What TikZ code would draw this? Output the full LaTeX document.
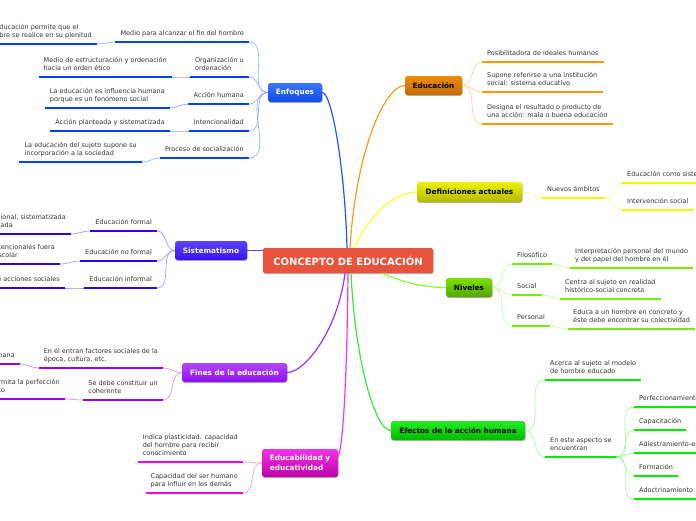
\documentclass[tikz,border=0pt]{standalone}
\usepackage{fontspec}
\setmainfont{DejaVu Sans}
\usetikzlibrary{shadows}
\definecolor{txtc}{HTML}{333333}
\definecolor{cred}{HTML}{E8533D}
% node gradients
\definecolor{gEt}{HTML}{3A78FF}\definecolor{gEb}{HTML}{1048E8}
\definecolor{gDt}{HTML}{F08C00}\definecolor{gDb}{HTML}{C06A00}
\definecolor{gAt}{HTML}{EEF200}\definecolor{gAb}{HTML}{B4B800}
\definecolor{gSt}{HTML}{5A44FF}\definecolor{gSb}{HTML}{3A10F0}
\definecolor{gNt}{HTML}{80E000}\definecolor{gNb}{HTML}{50A800}
\definecolor{gFt}{HTML}{B448FF}\definecolor{gFb}{HTML}{8E10EE}
\definecolor{gXt}{HTML}{22F022}\definecolor{gXb}{HTML}{00B800}
\definecolor{gBt}{HTML}{F034E4}\definecolor{gBb}{HTML}{C000A8}
% branch colours: line, underline, thin
\definecolor{cE}{HTML}{2255EE}\definecolor{uE}{HTML}{0044EE}\definecolor{tE}{HTML}{88A8FF}
\definecolor{cS}{HTML}{6644FF}\definecolor{uS}{HTML}{3300EE}\definecolor{tS}{HTML}{9F88FF}
\definecolor{cF}{HTML}{9933FF}\definecolor{uF}{HTML}{9900EE}\definecolor{tF}{HTML}{CC88FF}
\definecolor{cB}{HTML}{FF33EE}\definecolor{uB}{HTML}{FF00DD}\definecolor{tB}{HTML}{FF88EE}
\definecolor{cD}{HTML}{FF9911}\definecolor{uD}{HTML}{FF9900}\definecolor{tD}{HTML}{FFCC88}
\definecolor{cA}{HTML}{FFFF33}\definecolor{uA}{HTML}{EEFF00}\definecolor{tA}{HTML}{FFFF88}
\definecolor{cN}{HTML}{88FF33}\definecolor{uN}{HTML}{77EE00}\definecolor{tN}{HTML}{BBFF88}
\definecolor{cX}{HTML}{33EE33}\definecolor{uX}{HTML}{00EE00}\definecolor{tX}{HTML}{99FF99}
\newcommand\ULine[2]{%
  \coordinate (#1L) at ([xshift=-5pt,yshift=-4.5pt]#1.south west);
  \coordinate (#1R) at ([xshift=5pt,yshift=-4.5pt]#1.south east);
  \draw[line width=2.4pt,#2] (#1L) -- (#1R);}
\tikzset{
  txt/.style={inner sep=0pt, font=\fontsize{6.5}{8}\selectfont, text=txtc, align=left, text depth=1.5pt, yshift=4.5pt},
  mainnode/.style={rounded corners=2.5pt, inner sep=1pt, align=center,
    font=\fontsize{7.3}{9}\selectfont\bfseries,
    drop shadow={shadow xshift=0.6pt,shadow yshift=-0.9pt,opacity=0.3,fill=black}},
  mainline/.style={line width=1.2pt},
  thinline/.style={line width=0.6pt},
}
\begin{document}
\begin{tikzpicture}[x=1pt,y=-1pt]
\useasboundingbox (0,0) rectangle (696,520);

% ---------- main nodes ----------
\node[rounded corners=1.5pt, fill=cred, minimum width=170pt, minimum height=25pt, inner sep=0pt,
  text=white, font=\fontsize{10}{12}\selectfont\bfseries,
  drop shadow={shadow xshift=0.6pt,shadow yshift=-0.9pt,opacity=0.3,fill=black}] (C) at (348,260.5) {CONCEPTO DE EDUCACIÓN};
\node[mainnode, minimum width=54pt, minimum height=19pt, top color=gEt, bottom color=gEb, text=white] (E) at (295,92.5) {Enfoques};
\node[mainnode, minimum width=57pt, minimum height=19pt, top color=gDt, bottom color=gDb, text=black] (D) at (433.5,85.5) {Educación};
\node[mainnode, minimum width=105pt, minimum height=20pt, top color=gAt, bottom color=gAb, text=black] (A) at (469.5,192) {Definiciones actuales};
\node[mainnode, minimum width=72pt, minimum height=19pt, top color=gSt, bottom color=gSb, text=white] (S) at (211,250.5) {Sistematismo};
\node[mainnode, minimum width=46pt, minimum height=19pt, top color=gNt, bottom color=gNb, text=black] (N) at (469,287.5) {Niveles};
\node[mainnode, minimum width=105pt, minimum height=19pt, top color=gFt, bottom color=gFb, text=white] (F) at (234.5,372.5) {Fines de la educación};
\node[mainnode, minimum width=134pt, minimum height=19pt, top color=gXt, bottom color=gXb, text=black] (X) at (458,430.5) {Efectos de la acción humana};
\node[mainnode, minimum width=76pt, minimum height=28pt, top color=gBt, bottom color=gBb, text=white, align=left, font=\fontsize{7.3}{10.5}\selectfont\bfseries] (B) at (300,463) {Educabilidad y\\educatividad};

% ---------- central connectors ----------
\draw[mainline, cE] ([xshift=-1pt]C.north) .. controls (345,170) and (332,92.5) .. (E.east);
\draw[mainline, cD] ([xshift=2pt]C.north) .. controls (356,150) and (385,85.5) .. (D.west);
\draw[mainline, cA] ([xshift=6pt]C.north) .. controls (375,205) and (400,192) .. (A.west);
\draw[mainline, cS] (S.east) -- (S.east -| C.west);
\draw[mainline, cN] ([xshift=34pt]C.south) .. controls (405,283) and (425,287.5) .. (N.west);
\draw[mainline, cF] ([xshift=-3pt]C.south) .. controls (338,330) and (305,372.5) .. (F.east);
\draw[mainline, cB] (C.south) .. controls (347,380) and (343,445) .. ([yshift=6pt]B.east);
\draw[mainline, cX] ([xshift=3pt]C.south) .. controls (355,360) and (375,430.5) .. (X.west);

% ---------- Enfoques ----------
\node[txt, anchor=south east] (e1) at (244,42) {Medio para alcanzar el fin del hombre};
\node[txt, anchor=south east] (e2) at (244,77) {Organización u\\ordenación};
\node[txt, anchor=south east] (e3) at (244,104) {Acción humana};
\node[txt, anchor=south east] (e4) at (244,131) {Intencionalidad};
\node[txt, anchor=south east] (e5) at (244,158) {Proceso de socialización};
\node[txt, anchor=south east] (ee1) at (92,44) {ducación permite que el\\bre se realice en su plenitud};
\node[txt, anchor=south east] (ee2) at (167,77) {Medio de estructuración y ordenación\\hacia un orden ético};
\node[txt, anchor=south east] (ee3) at (165,108) {La educación es influencia humana\\porque es un fenómeno social};
\node[txt, anchor=south east] (ee4) at (165,131) {Acción planteada y sistematizada};
\node[txt, anchor=south east] (ee5) at (137,162) {La educación del sujeto supone su\\incorporación a la sociedad};
\foreach \n in {e1,e2,e3,e4,e5,ee1,ee2,ee3,ee4,ee5}{\ULine{\n}{uE}}
\foreach \n in {1,...,5}{
  \draw[thinline, tE] (E.west) to[out=180,in=0] (e\n R);
  \draw[thinline, tE] (e\n L) to[out=180,in=0] (ee\n R);}

% ---------- Sistematismo ----------
\node[txt, anchor=south east] (s1) at (152,231) {Educación formal};
\node[txt, anchor=south east] (s2) at (152,261) {Educación no formal};
\node[txt, anchor=south east] (s3) at (152,288) {Educación informal};
\node[txt, anchor=south east] (ss1) at (66,234) {cional, sistematizada\\ilada};
\node[txt, anchor=south east] (ss2) at (55,264) {tencionales fuera\\scolar};
\node[txt, anchor=south east] (ss3) at (60,288) {e acciones sociales};
\foreach \n in {s1,s2,s3,ss1,ss2,ss3}{\ULine{\n}{uS}}
\foreach \n in {1,2,3}{
  \draw[thinline, tS] (S.west) to[out=180,in=0] (s\n R);
  \draw[thinline, tS] (s\n L) to[out=180,in=0] (ss\n R);}

% ---------- Fines ----------
\node[txt, anchor=south east] (f1) at (158,368) {En él entran factores sociales de la\\época, cultura, etc.};
\node[txt, anchor=south east] (f2) at (158,400) {Se debe constituir un\\coherente};
\node[txt, anchor=south east] (ff1) at (15,364) {mana};
\node[txt, anchor=south east] (ff2) at (60,399) {rmita la perfección\\to};
\foreach \n in {f1,f2,ff1,ff2}{\ULine{\n}{uF}}
\foreach \n in {1,2}{
  \draw[thinline, tF] (F.west) to[out=180,in=0] (f\n R);
  \draw[thinline, tF] (f\n L) to[out=180,in=0] (ff\n R);}

% ---------- Educabilidad ----------
\node[txt, anchor=south east] (b1) at (238,462) {Indica plasticidad. capacidad\\del hombre para recibir\\conocimiento};
\node[txt, anchor=south east] (b2) at (238,493) {Capacidad del ser humano\\para influir en los demás};
\foreach \n in {b1,b2}{\ULine{\n}{uB}}
\foreach \n in {1,2}{\draw[thinline, tB] (B.west) to[out=180,in=0] (b\n R);}

% ---------- Educación ----------
\node[txt, anchor=south west] (d1) at (487,62) {Posibilitadora de ideales humanos};
\node[txt, anchor=south west] (d2) at (487,92) {Supone referirse a una institución\\social: sistema educativo};
\node[txt, anchor=south west] (d3) at (487,124) {Designa el resultado o producto de\\una acción: mala o buena educación};
\foreach \n in {d1,d2,d3}{\ULine{\n}{uD}}
\foreach \n in {1,2,3}{\draw[thinline, tD] (D.east) to[out=0,in=180] (d\n L);}

% ---------- Definiciones actuales ----------
\node[txt, anchor=south west] (a1) at (547,198) {Nuevos ámbitos};
\node[txt, anchor=south west] (aa1) at (627,183) {Educación como sistema};
\node[txt, anchor=south west] (aa2) at (627,210) {Intervención social};
\foreach \n in {a1,aa1,aa2}{\ULine{\n}{uA}}
\draw[thinline, tA] (A.east) to[out=0,in=180] (a1L);
\draw[thinline, tA] (a1R) to[out=0,in=180] (aa1L);
\draw[thinline, tA] (a1R) to[out=0,in=180] (aa2L);

% ---------- Niveles ----------
\node[txt, anchor=south west] (n1) at (517,264) {Filosófico};
\node[txt, anchor=south west] (n2) at (517,295) {Social};
\node[txt, anchor=south west] (n3) at (517,326) {Personal};
\node[txt, anchor=south west] (nn1) at (575,268) {Interpretación personal del mundo\\y del papel del hombre en él};
\node[txt, anchor=south west] (nn2) at (565,299) {Centra al sujeto en realidad\\histórico-social concreta};
\node[txt, anchor=south west] (nn3) at (573,329) {Educa a un hombre en concreto y\\éste debe encontrar su colectividad};
\foreach \n in {n1,n2,n3,nn1,nn2,nn3}{\ULine{\n}{uN}}
\foreach \n in {1,2,3}{
  \draw[thinline, tN] (N.east) to[out=0,in=180] (n\n L);
  \draw[thinline, tN] (n\n R) to[out=0,in=180] (nn\n L);}

% ---------- Efectos ----------
\node[txt, anchor=south west] (x1) at (550,380) {Acerca al sujeto al modelo\\de hombre educado};
\node[txt, anchor=south west] (x2) at (550,457) {En este aspecto se\\encuentran};
\node[txt, anchor=south west] (xx1) at (639,407) {Perfeccionamiento};
\node[txt, anchor=south west] (xx2) at (639,430) {Capacitación};
\node[txt, anchor=south west] (xx3) at (639,453) {Adiestramiento-entrenamiento};
\node[txt, anchor=south west] (xx4) at (639,476) {Formación};
\node[txt, anchor=south west] (xx5) at (639,499) {Adoctrinamiento};
\foreach \n in {x1,x2,xx1,xx2,xx3,xx4,xx5}{\ULine{\n}{uX}}
\foreach \n in {1,2}{\draw[thinline, tX] (X.east) to[out=0,in=180] (x\n L);}
\foreach \n in {1,...,5}{\draw[thinline, tX] (x2R) to[out=0,in=180] (xx\n L);}
\end{tikzpicture}
\end{document}
